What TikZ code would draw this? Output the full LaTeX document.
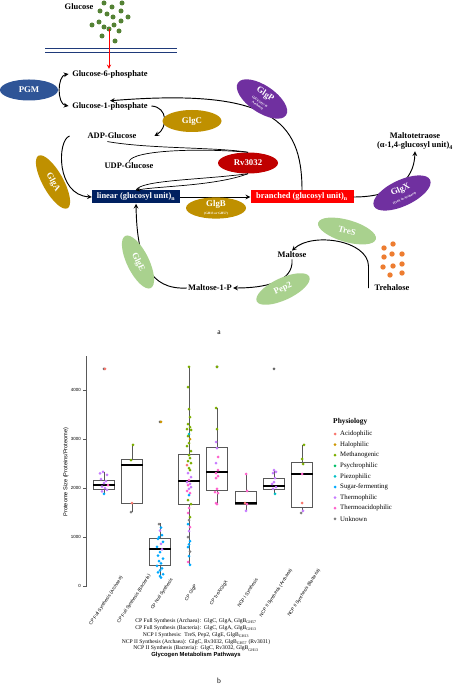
\documentclass[tikz,border=0pt]{standalone}
\usepackage{fontspec}
\setmainfont{Liberation Serif}
\setsansfont{Liberation Sans}
\usepackage{amsmath}
\usetikzlibrary{shapes.geometric}

\definecolor{pgmblue}{HTML}{2F5597}
\definecolor{enzgold}{HTML}{BF9000}
\definecolor{enzpurple}{HTML}{7030A0}
\definecolor{enzred}{HTML}{C00000}
\definecolor{enzgreen}{HTML}{A9D18E}
\definecolor{linnavy}{HTML}{002060}
\definecolor{glcgreen}{HTML}{548235}
\definecolor{treorange}{HTML}{ED7D31}
\definecolor{membrane}{HTML}{1F3A7A}
\definecolor{acid}{HTML}{F8766D}
\definecolor{halo}{HTML}{CD9600}
\definecolor{meth}{HTML}{7CAE00}
\definecolor{psych}{HTML}{00BE67}
\definecolor{piezo}{HTML}{00BFC4}
\definecolor{sugar}{HTML}{00A9FF}
\definecolor{thermo}{HTML}{C77CFF}
\definecolor{thac}{HTML}{FF61CC}
\definecolor{unk}{HTML}{7F7F7F}

\tikzset{
  lbl/.style={inner sep=1pt, font=\fontsize{7.2}{8.5}\selectfont\bfseries},
  enz/.style={ellipse, inner sep=0pt, text=white, align=center, font=\fontsize{7.5}{8}\selectfont\bfseries},
  unitbox/.style={inner sep=0pt, text=white, minimum height=0.39cm, font=\fontsize{7.2}{8.5}\selectfont\bfseries},
  arr/.style={-stealth, line width=0.8pt},
  lnk/.style={line width=0.6pt},
  pt/.style={circle, inner sep=0pt, minimum size=0.09cm},
  tk/.style={anchor=east, inner sep=0pt, font=\sffamily\fontsize{3.8}{4}\selectfont},
  xlab/.style={rotate=57, inner sep=0pt, font=\sffamily\fontsize{3.9}{4}\selectfont},
  leg/.style={anchor=west, inner sep=0pt, font=\fontsize{5.8}{6}\selectfont},
  bx/.style={black!65, line width=0.5pt}
}

\begin{document}
\begin{tikzpicture}[x=0.03cm,y=-0.03cm]
\useasboundingbox (0,0) rectangle (454,685);

\node[lbl] (glucose) at (79,7) {Glucose};
\foreach \x/\y in {104/3,122/3,112/7,100/11,107/14,121/11,128/17,113/17,92/25,99/22,104/27,109/29,114/25,121/21,119/31,102/36,115/41}
  \fill[glcgreen] (\x,\y) circle (2.5);
\draw[membrane, line width=0.8pt] (45,48) -- (177,48) (45,52) -- (177,52);

\node[lbl] (g6p) at (110,74) {Glucose-6-phosphate};
\node[lbl] (g1p) at (110,106) {Glucose-1-phosphate};
\node[lbl] (adpg) at (112,136) {ADP-Glucose};
\node[lbl] (udpg) at (129,166) {UDP-Glucose};
\node[unitbox, fill=linnavy, minimum width=2.64cm] (linear) at (136,197) {linear (glucosyl unit)\textsubscript{n}};
\node[unitbox, fill=red, minimum width=3.09cm] (branched) at (302,197) {branched (glucosyl unit)\textsubscript{n}};
\node[lbl, align=center] (maltotet) at (415,141) {Maltotetraose\\(α-1,4-glucosyl unit)\textsubscript{4}};
\node[lbl] (maltose) at (292,255) {Maltose};
\node[lbl] (m1p) at (210,288) {Maltose-1-P};
\node[lbl] (trehalose) at (392,288) {Trehalose};
\foreach \x/\y in {384/248,393/244,402/254,384/257,392/254,383/267,393/266,402/264,390/275,402/273}
  \fill[treorange] (\x,\y) circle (2.7);

\node[enz, fill=enzred, minimum width=1.8cm, minimum height=0.63cm] (rv) at (248,163) {Rv3032};

\coordinate (gin) at (109,29);
\draw[red, -stealth, line width=0.6pt] (gin) -- (gin |- g6p.north);
\draw[arr, stealth-stealth] ([xshift=-2pt]g6p.west) .. controls (57,76) and (57,104) .. ([xshift=-2pt]g1p.west);
\draw[arr] ([xshift=2pt]g1p.east) .. controls (168,107) and (168,128) .. ([xshift=0.5cm]adpg.east);
\draw[lnk] ([xshift=-4pt,yshift=-1pt]adpg.south) .. controls (150,149) and (215,147) .. (rv.north);
\draw[lnk] (udpg.north) .. controls (132,150) and (200,148) .. (rv.north);
\draw[lnk] (linear.north) .. controls (140,180) and (200,180) .. (rv.south);
\draw[lnk, -stealth] (rv.south) .. controls (215,186) and (160,186) .. (linear.north);
\draw[arr] (linear.east) -- (branched.west);
\draw[arr] ([xshift=-0.5cm]adpg.west) .. controls (57,140) and (56,195) .. (linear.west);
\draw[arr] (m1p.west) .. controls (150,290) and (137,262) .. (linear.south);
\draw[arr] (maltose.south) .. controls (294,282) and (265,288) .. (m1p.east);
\draw[arr] ([xshift=-4pt]trehalose.west) -- ++(0,-22) .. controls (368,240) and (312,232) .. (maltose.north);
\draw[arr] (branched.east) .. controls (392,197) and (414,182) .. (maltotet.south);
\draw[arr] (branched.north) .. controls (302,120) and (270,88) .. (g1p.north);

\node[enz, fill=pgmblue, minimum width=1.74cm, minimum height=0.63cm] (pgm) at (29,90) {PGM};
\node[enz, fill=enzgold, minimum width=1.77cm, minimum height=0.66cm] (glgc) at (192,121) {GlgC};
\node[enz, fill=enzgold, minimum width=1.8cm, minimum height=0.6cm] (glgb) at (216,208) {GlgB\\[-1pt]{\fontsize{2.8}{3}\selectfont (GH13 or GH57)}};
\node[enz, fill=enzgold, minimum width=1.8cm, minimum height=0.62cm, rotate=-61] (glga) at (53,182) {GlgA};
\node[enz, fill=enzgreen, minimum width=1.74cm, minimum height=0.66cm, rotate=-64] (glge) at (138,262) {GlgE};
\node[enz, fill=enzgreen, minimum width=1.74cm, minimum height=0.66cm, rotate=25] (pep2) at (283,289) {Pep2};
\node[enz, fill=enzgreen, minimum width=1.8cm, minimum height=0.66cm, rotate=-16] (tres) at (347,231) {TreS};
\node[enz, fill=enzpurple, minimum width=1.86cm, minimum height=0.78cm, rotate=25] (glgx) at (402,193) {GlgX\\[-1pt]{\fontsize{2.8}{3}\selectfont (TreX in Archaea)}};
\node[enz, fill=enzpurple, minimum width=1.74cm, minimum height=0.72cm, rotate=-34] (glgp) at (262,99) {GlgP\\[-1pt]{\fontsize{2.8}{3}\selectfont (DUF3417 in}\\[-4.5pt]{\fontsize{2.8}{3}\selectfont Archaea)}};

\node[font=\fontsize{6.5}{7}\selectfont] (pa) at (219,333) {a};

\begin{scope}[shift={(0,586)}, yscale=-0.049]
  \draw[bx] (86,-20) -- (86,4694);
  \foreach \v in {0,1000,2000,3000,4000} {
    \draw[bx] (83,\v) -- (86,\v);
    \node[tk] at (81,\v) {\v};
  }
  \foreach \x/\lo/\qa/\md/\qb/\hi in {104/1880/1980/2061/2163/2330, 132/1510/1694/2469/2592/2878, 160/163/429/755/980/1286, 189/429/1673/2143/2694/4470, 217/1673/1959/2327/2837/3633, 246/1531/1673/1694/1939/2286, 274/1878/1980/2041/2204/2367, 302/1510/1612/2286/2531/2878} {
    \draw[bx] (\x,\lo) -- (\x,\qa) (\x,\qb) -- (\x,\hi);
    \draw[bx, fill=white] (\x-10.7,\qa) rectangle (\x+10.7,\qb);
    \draw[line width=1pt] (\x-10.7,\md) -- (\x+10.7,\md);
  }
  \foreach \x/\v in {104/4430, 160/3350, 217/4470, 274/4430}
    \node[pt, fill=unk!80!black] at (\x,\v) {};
  \foreach \dx/\v/\c in {-4/2300/thermo, -1/2330/thermo, 3/2270/thermo, -3/2180/thermo, 2/2140/thermo, 0/2100/thermo, 4/2060/thac, -2/2030/thermo, 1/2000/thermo, 3/1960/thermo, -2/1930/thermo, 0/1880/sugar, 1/4430/acid}
    \node[pt, fill=\c] at (104+\dx,\v) {};
  \foreach \dx/\v/\c in {1/2878/meth, -1/2571/meth, 0/1694/acid, -1/1510/unk}
    \node[pt, fill=\c] at (132+\dx,\v) {};
  \foreach \dx/\v/\c in {1/3350/halo, -1/1265/unk, 1/1190/sugar, 0/1130/thermo, 2/1040/sugar, -1/1000/sugar, -2/960/sugar, 3/900/sugar, 1/860/thermo, -3/800/sugar, 2/750/thermo, 0/690/sugar, -2/620/sugar, 3/560/sugar, -1/510/sugar, 1/460/sugar, -3/410/sugar, 2/360/sugar, 0/320/sugar, -2/280/sugar, 3/240/sugar, 0/200/sugar, 1/170/sugar}
    \node[pt, fill=\c] at (160+\dx,\v) {};
  \foreach \dx/\v/\c in {0/4470/meth, -1/4061/meth, 0/3612/meth, 1/3449/meth, -1/3306/meth, 1/3245/meth, -2/3204/meth, 2/3184/meth, 0/3102/piezo, -1/3061/meth, 1/3000/halo, 0/2918/meth, -2/2857/meth, 2/2755/meth, 0/2673/meth, 1/2612/meth, -1/2551/meth, 2/2510/meth, -2/2469/acid, 0/2408/meth, 1/2367/meth, -1/2306/thermo, 2/2224/thermo, 0/2163/thac, -2/2122/thermo, 1/2082/thermo, -1/2061/thac, 2/2020/thermo, 0/1980/thermo, -2/1939/thac, 1/1898/thac, 0/1857/sugar, -1/1755/meth, 2/1673/meth, 0/1592/thac, -1/1490/thac, 1/1408/meth, 0/1347/unk, -1/1265/sugar, 1/1200/thac, 0/1122/thermo, -1/1000/unk, 1/918/sugar, 0/850/sugar, -1/796/sugar, 1/700/unk, 0/612/sugar, -1/490/thac, 1/430/sugar}
    \node[pt, fill=\c] at (189+\dx,\v) {};
  \foreach \dx/\v/\c in {0/4470/meth, -1/3633/meth, 0/3204/meth, -1/2939/thermo, 0/2816/thermo, 1/2633/thac, -1/2510/thermo, 1/2367/thac, -1/2306/thac, 1/2245/thac, -1/2204/thac, 0/1980/thac, -2/1918/thac, 1/1898/thac, -1/1694/thac, 0/1673/thac}
    \node[pt, fill=\c] at (217+\dx,\v) {};
  \foreach \dx/\v/\c in {0/2286/thac, 1/1939/thac, -1/1694/acid, 1/1673/thac, 0/1531/thermo}
    \node[pt, fill=\c] at (246+\dx,\v) {};
  \foreach \dx/\v/\c in {0/2367/thermo, 2/2327/thermo, -1/2306/thermo, 1/2204/thermo, 0/2122/thermo, -2/2082/thermo, 2/2020/thermo, -1/1980/thermo, 1/1878/piezo}
    \node[pt, fill=\c] at (274+\dx,\v) {};
  \foreach \dx/\v/\c in {2/2878/meth, 0/2592/meth, 1/2490/meth, 0/2286/thac, 0/1694/acid, 1/1531/thermo, -1/1490/unk}
    \node[pt, fill=\c] at (302+\dx,\v) {};
\end{scope}

\node[font=\sffamily\fontsize{4.8}{5}\selectfont, rotate=90] (ytitle) at (66,472) {Proteome Size (Proteins/Proteome)};
\foreach \x/\y/\t in {106/601/{CP Full Synthesis (Archaea)}, 134/599/{CP Full Synthesis (Bacteria)}, 162/594/{CP Null Synthesis}, 191/593/{CP GlgP}, 219/593/{CP TreX/GlgX}, 248/593/{NCP I Synthesis}, 276/593/{NCP II Synthesis (Archaea)}, 304/593/{NCP II Synthesis (Bacteria)}}
  \node[xlab] at (\x,\y) {\t};

\node[font=\fontsize{4.8}{5.8}\selectfont, align=center] (pathways) at (196,635) {CP Full Synthesis (Archaea):\ \ GlgC, GlgA, GlgB\textsubscript{GH57}\\
CP Full Synthesis (Bacteria):\ \ GlgC, GlgA, GlgB\textsubscript{GH13}\\
NCP I Synthesis:\ \ TreS, Pep2, GlgE, GlgB\textsubscript{GH13}\\
NCP II Synthesis (Archaea):\ \ GlgC, Rv3032, GlgB\textsubscript{GH57} (Rv3031)\\
NCP II Synthesis (Bacteria):\ \ GlgC, Rv3032, GlgB\textsubscript{GH13}};
\node[font=\sffamily\bfseries\fontsize{5}{6}\selectfont] (xtitle) at (196,655) {Glycogen Metabolism Pathways};

\node[anchor=west, inner sep=0pt, font=\fontsize{6.3}{7}\selectfont\bfseries] (legtitle) at (333,422) {Physiology};
\foreach \c/\t [count=\i from 0] in {acid/Acidophilic, halo/Halophilic, meth/Methanogenic, psych/Psychrophilic, piezo/Piezophilic, sugar/Sugar-fermenting, thermo/Thermophilic, thac/Thermoacidophilic, unk/Unknown} {
  \node[pt, fill=\c] at (335,434+10.6*\i) {};
  \node[leg] at (340,434+10.6*\i) {\t};
}

\node[font=\fontsize{6.5}{7}\selectfont] (pb) at (219,681) {b};
\end{tikzpicture}
\end{document}
